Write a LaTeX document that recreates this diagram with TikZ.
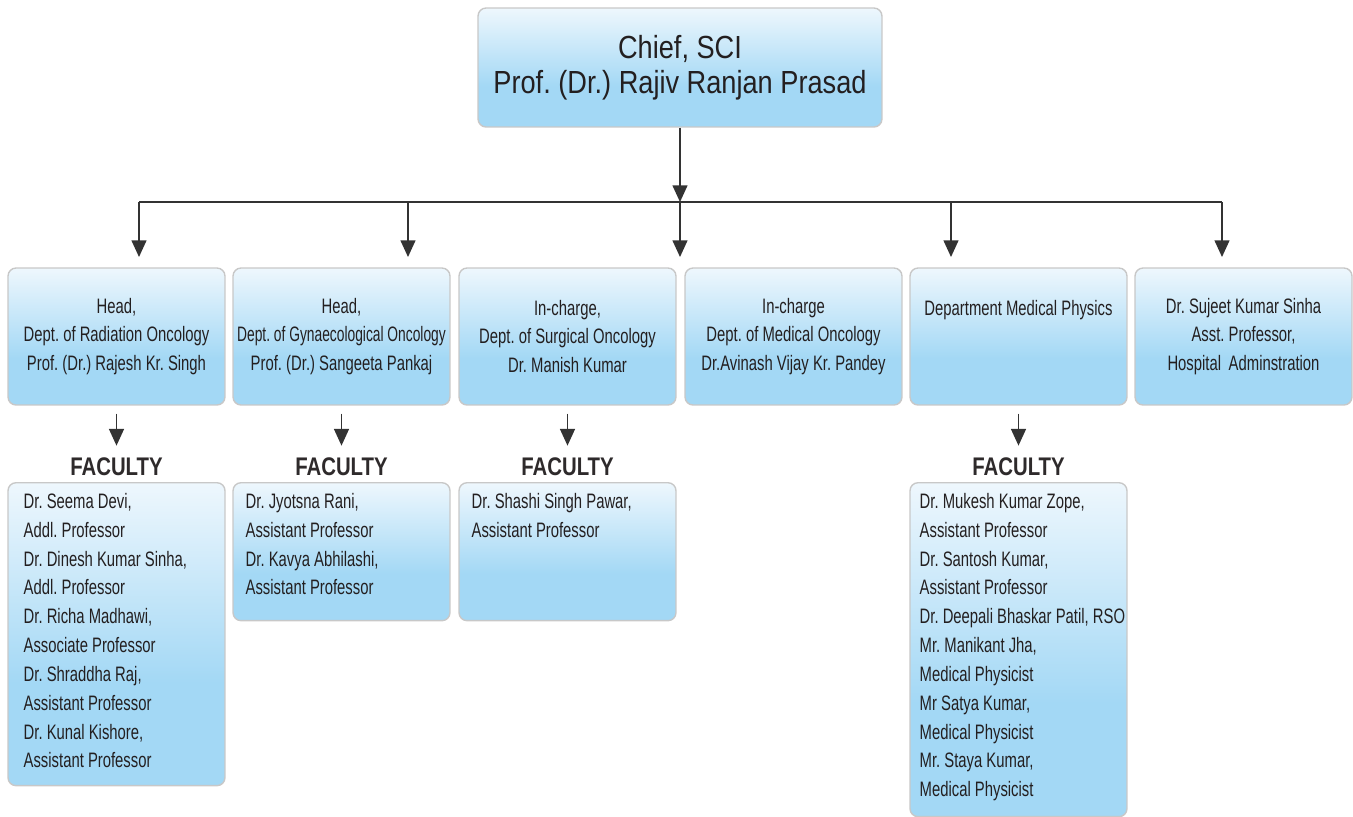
\documentclass[tikz,border=0pt]{standalone}
\usepackage{fontspec}
\setmainfont{Liberation Sans}
\newfontfamily\chieffont{Liberation Sans}[FakeStretch=0.85]
\newfontfamily\condfont{Liberation Sans}[FakeStretch=0.71]
\newfontfamily\narrowfont{Liberation Sans}[FakeStretch=0.66]
\newfontfamily\facfont{Liberation Sans}[FakeStretch=0.8]
\frenchspacing
\usetikzlibrary{arrows.meta}
\definecolor{boxtop}{HTML}{EEF7FD}
\definecolor{boxbot}{HTML}{A3D8F5}
\definecolor{boxline}{HTML}{C8C8C8}
\definecolor{inktext}{HTML}{231F20}
\definecolor{inkline}{HTML}{333333}
\pgfdeclareverticalshading{boxshade}{100bp}{color(0bp)=(boxbot); color(42bp)=(boxbot); color(75bp)=(boxtop); color(100bp)=(boxtop)}
\begin{document}
\begin{tikzpicture}[x=0.02cm, y=-0.02cm,
    card/.style={draw=boxline, line width=0.8pt, shading=boxshade, rounded corners=0.16cm, inner sep=0pt},
    chiefbox/.style={card, minimum width=8.08cm, minimum height=2.38cm, align=center, text=inktext, font=\chieffont\fontsize{18.2pt}{19.8pt}\selectfont},
    deptbox/.style={card, minimum width=4.34cm, minimum height=2.74cm, align=center, text=inktext, font=\condfont\fontsize{11.9pt}{16.4pt}\selectfont},
    facbox/.style={card, minimum width=4.34cm, anchor=north},
    factext/.style={anchor=north west, inner sep=0pt, align=left, text=inktext, font=\condfont\fontsize{11.9pt}{16.4pt}\selectfont},
    faclabel/.style={inner sep=0pt, text=inktext!95, font=\facfont\bfseries\fontsize{14.5pt}{15pt}\selectfont},
    link/.style={draw=inkline, line width=0.85pt},
    arr/.style={link, -{Triangle[width=8.5pt, length=9.5pt]}}]
\useasboundingbox (0,0) rectangle (1353,816);

% Chief
\node[chiefbox] (chief) at (680,67.5) {Chief, SCI\\Prof. (Dr.) Rajiv Ranjan Prasad};

% Departments
\node[deptbox] (radonc) at (116.5,336.5) {Head,\\Dept. of Radiation Oncology\\Prof. (Dr.) Rajesh Kr. Singh};
\node[deptbox] (gynonc) at (341.5,336.5) {Head,\\{\narrowfont Dept. of Gynaecological Oncology}\\Prof. (Dr.) Sangeeta Pankaj};
\node[deptbox] (surgonc) at (567.5,336.5) {In-charge,\\Dept. of Surgical Oncology\\Dr. Manish Kumar};
\node[deptbox] (medonc) at (793.5,336.5) {In-charge\\Dept. of Medical Oncology\\Dr.Avinash Vijay Kr. Pandey};
\node[deptbox] (medphys) at (1018.5,336.5) {Department Medical Physics\\~\\~};
\node[deptbox] (hospadm) at (1243.5,336.5) {Dr. Sujeet Kumar Sinha\\Asst. Professor,\\Hospital\, Adminstration};

% Branches
\coordinate (hub) at (680,202);
\coordinate (br1) at (139,257);
\coordinate (br2) at (408,257);
\coordinate (br3) at (680,257);
\coordinate (br4) at (951,257);
\coordinate (br5) at (1222,257);
\draw[arr] (chief) -- (hub);
\draw[link] (br1 |- hub) -- (br5 |- hub);
\foreach \b in {br1,br2,br3,br4,br5}
  \draw[arr] (\b |- hub) -- (\b);

% Faculty
\node[faclabel] (radlbl) at (116.5,467) {FACULTY};
\node[faclabel] (gynlbl) at (341.5,467) {FACULTY};
\node[faclabel] (surglbl) at (567.5,467) {FACULTY};
\node[faclabel] (physlbl) at (1018.5,467) {FACULTY};
\foreach \d/\l in {radonc/radlbl, gynonc/gynlbl, surgonc/surglbl, medphys/physlbl}
  \draw[arr] ([yshift=-0.16cm]\d.south) -- ([yshift=0.24cm]\l.north);

\node[facbox, minimum height=6.06cm] (radfac) at (116.5,482) {};
\node[facbox, minimum height=2.76cm] (gynfac) at (341.5,482) {};
\node[facbox, minimum height=2.76cm] (surgfac) at (567.5,482) {};
\node[facbox, minimum height=6.68cm] (physfac) at (1018.5,482) {};

\node[factext] (radlist) at ([shift={(16,11)}]radfac.north west) {Dr. Seema Devi,\\Addl. Professor\\Dr. Dinesh Kumar Sinha,\\Addl. Professor\\Dr. Richa Madhawi,\\Associate Professor\\Dr. Shraddha Raj,\\Assistant Professor\\Dr. Kunal Kishore,\\Assistant Professor};
\node[factext] (gynlist) at ([shift={(13,11)}]gynfac.north west) {Dr. Jyotsna Rani,\\Assistant Professor\\Dr. Kavya Abhilashi,\\Assistant Professor};
\node[factext] (surglist) at ([shift={(13,11)}]surgfac.north west) {Dr. Shashi Singh Pawar,\\Assistant Professor};
\node[factext] (physlist) at ([shift={(10,11)}]physfac.north west) {Dr. Mukesh Kumar Zope,\\Assistant Professor\\Dr. Santosh Kumar,\\Assistant Professor\\Dr. Deepali Bhaskar Patil, RSO\\Mr. Manikant Jha,\\Medical Physicist\\Mr Satya Kumar,\\Medical Physicist\\Mr. Staya Kumar,\\Medical Physicist};
\end{tikzpicture}
\end{document}
